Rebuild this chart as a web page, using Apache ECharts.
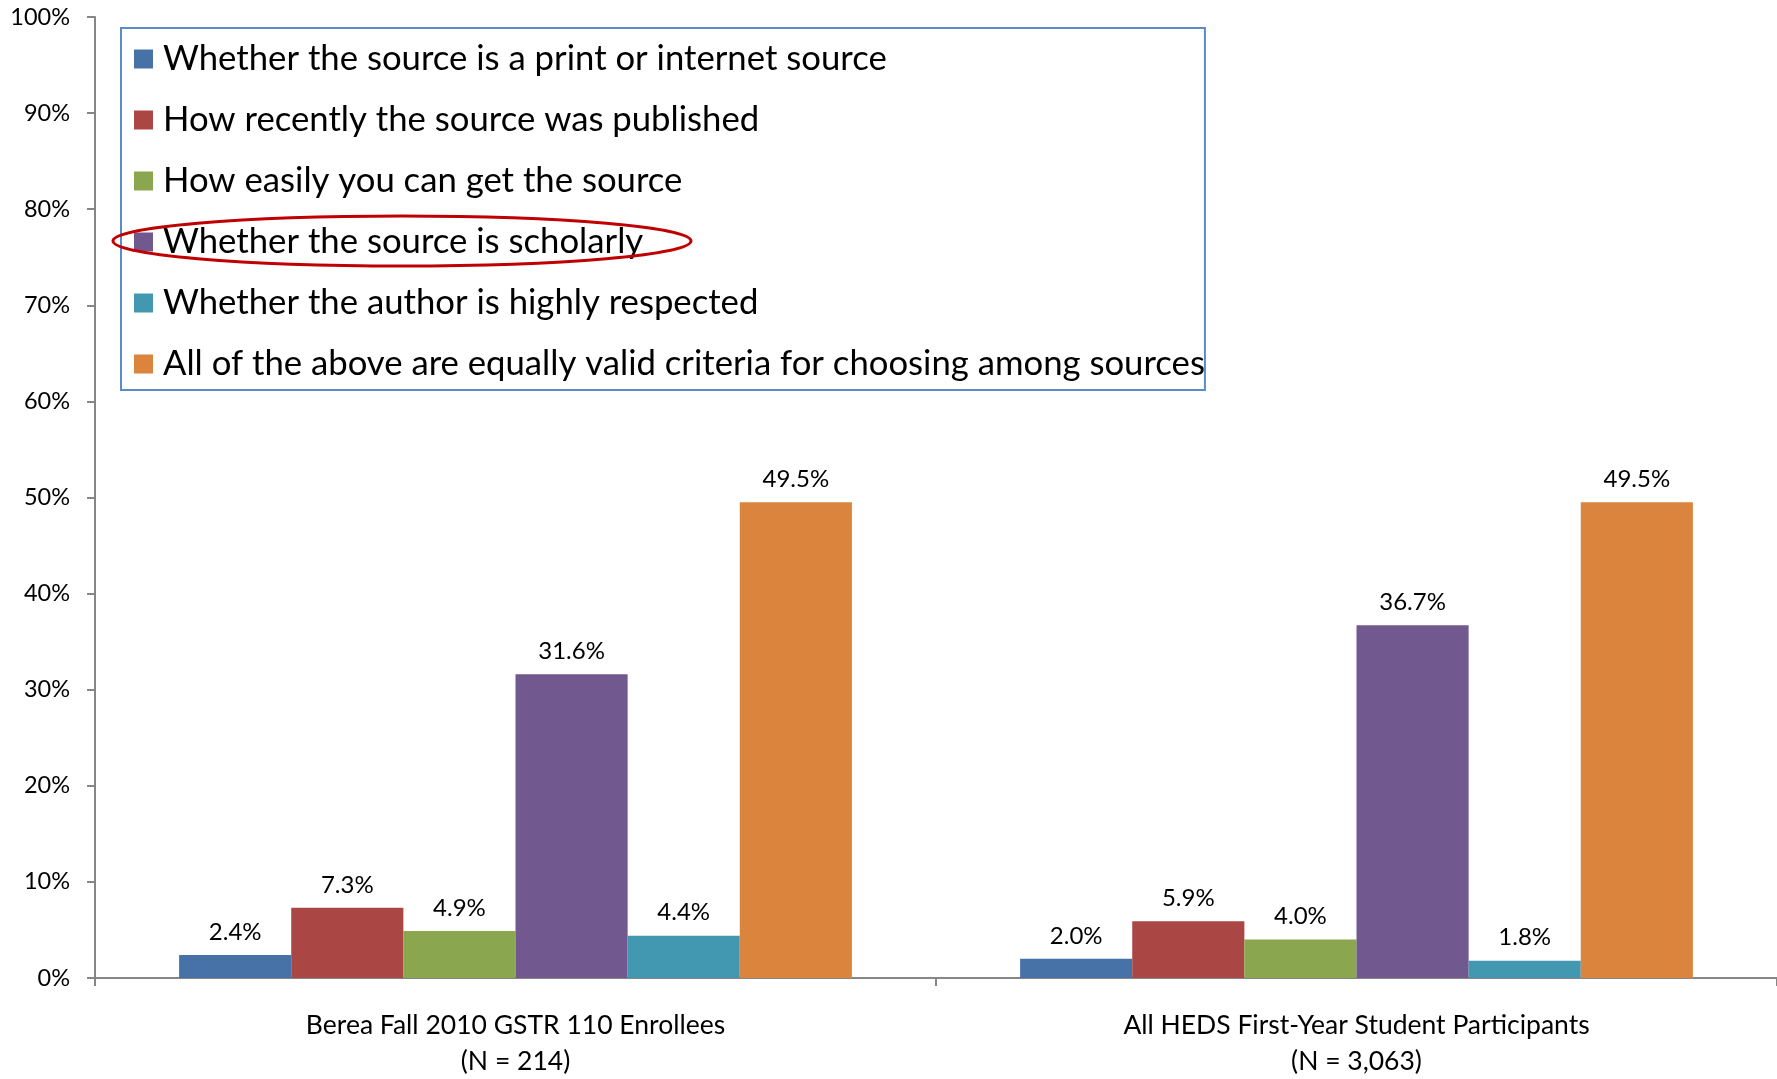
<!DOCTYPE html>
<html>
<head>
<meta charset="utf-8">
<script src="https://cdn.jsdelivr.net/npm/echarts@6/dist/echarts.min.js"></script>
<style>
  html, body { margin: 0; padding: 0; background: #fff; }
  #chart { width: 1777px; height: 1079px; }
</style>
</head>
<body>
<div id="chart"></div>
<script>
const categories = [
  "Berea Fall 2010 GSTR 110 Enrollees\n(N = 214)",
  "All HEDS First-Year Student Participants\n(N = 3,063)"
];
const seriesNames = [
  "Whether the source is a print or internet source",
  "How recently the source was published",
  "How easily you can get the source",
  "Whether the source is scholarly",
  "Whether the author is highly respected",
  "All of the above are equally valid criteria for choosing among sources"
];
const printOrInternet = [2.4, 2.0];
const howRecent = [7.3, 5.9];
const howEasily = [4.9, 4.0];
const scholarly = [31.6, 36.7];
const authorRespected = [4.4, 1.8];
const allEqual = [49.5, 49.5];
const seriesValues = [printOrInternet, howRecent, howEasily, scholarly, authorRespected, allEqual];
const colors = ["#4672a8", "#aa4644", "#8aa64e", "#71588f", "#4298b0", "#db843d"];

const FONT = "Lato";
const chart = echarts.init(document.getElementById("chart"));

chart.setOption({
  backgroundColor: "#fff",
  animation: false,
  color: colors,
  textStyle: { fontFamily: FONT },
  grid: { left: 95, right: 0, top: 17, bottom: 96 },
  legend: {
    orient: "vertical",
    left: 121,
    top: 28,
    data: seriesNames,
    icon: "rect",
    itemWidth: 19,
    itemHeight: 19,
    itemGap: 21,
    padding: [11, 0, 6, 13],
    borderColor: "#5b8bc9",
    borderWidth: 2,
    backgroundColor: "#fff",
    selectedMode: false,
    textStyle: { fontFamily: FONT, fontSize: 34.7, color: "#000", lineHeight: 40, padding: [0, 0, 0, 5] }
  },
  xAxis: {
    type: "category",
    data: categories,
    axisLine: { lineStyle: { color: "#868686", width: 2 } },
    axisTick: { show: true, length: 8, lineStyle: { color: "#868686", width: 2 } },
    axisLabel: { fontFamily: FONT, fontSize: 26.5, color: "#000", lineHeight: 36, margin: 29 }
  },
  yAxis: {
    type: "value",
    min: 0,
    max: 100,
    interval: 10,
    axisLine: { show: true, lineStyle: { color: "#868686", width: 2 } },
    axisTick: { show: true, length: 8, lineStyle: { color: "#868686", width: 2 } },
    splitLine: { show: false },
    axisLabel: { fontFamily: FONT, fontSize: 23.5, color: "#000", margin: 25, formatter: "{value}%" }
  },
  series: seriesNames.map((name, i) => ({
    name: name,
    type: "bar",
    data: seriesValues[i],
    barGap: "0%",
    barCategoryGap: "20%",
    itemStyle: { color: colors[i] },
    label: {
      show: true,
      position: "top",
      distance: 11,
      fontFamily: FONT,
      fontSize: 24,
      color: "#000",
      formatter: (p) => p.value.toFixed(1) + "%"
    }
  })),
  graphic: [{
    type: "ellipse",
    z: 100,
    shape: { cx: 402, cy: 241, rx: 289, ry: 25 },
    style: { fill: "none", stroke: "#c00000", lineWidth: 3 }
  }]
});
</script>
</body>
</html>
